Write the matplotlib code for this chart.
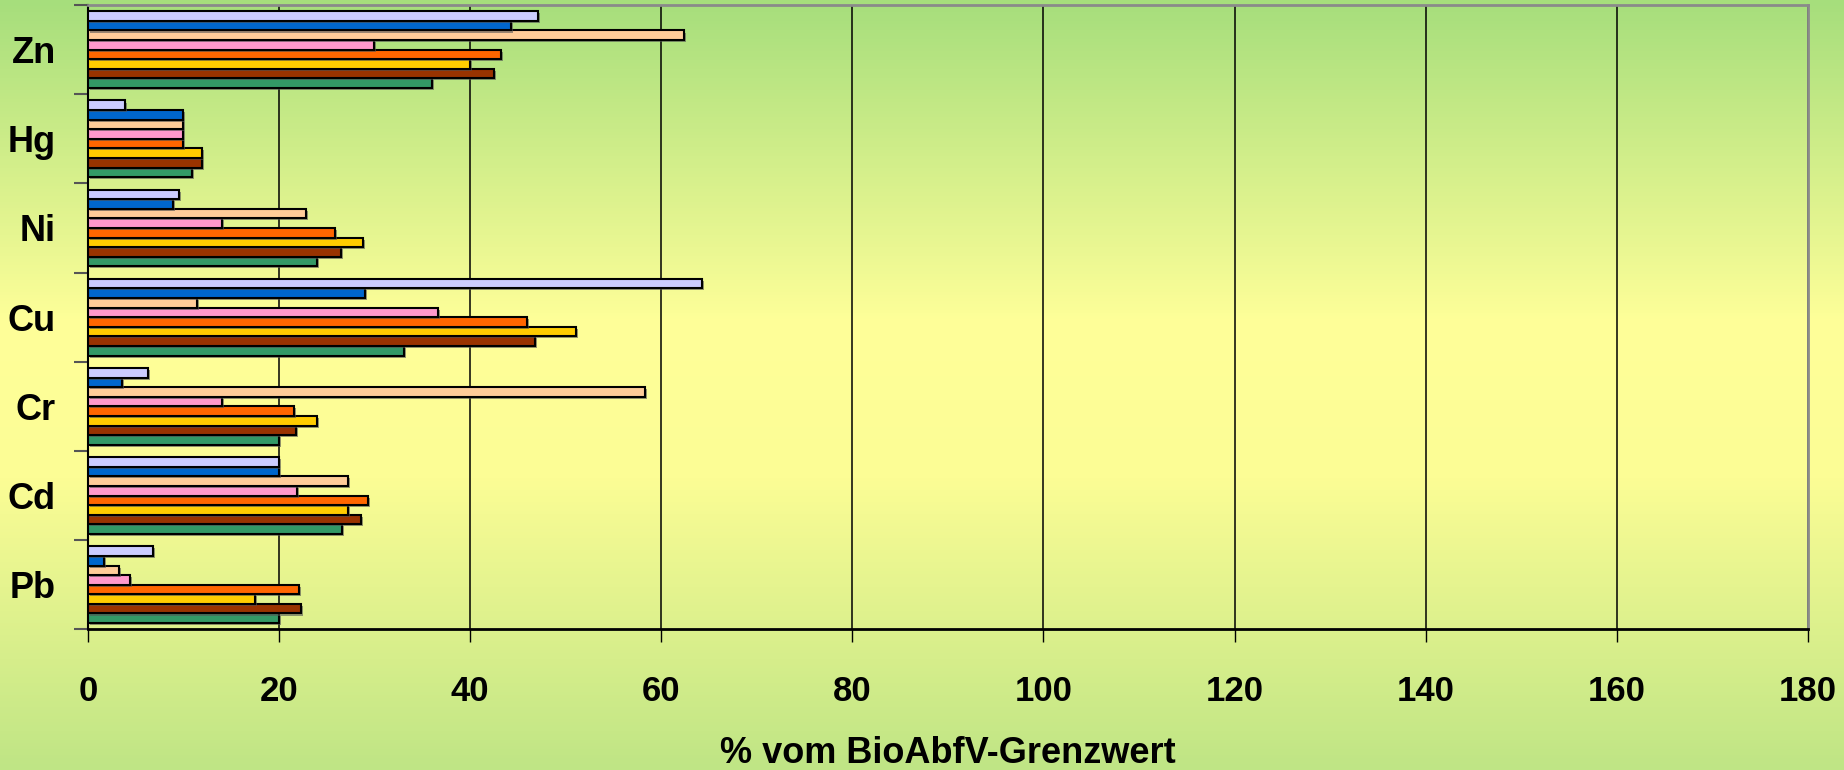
import numpy as np
import matplotlib
matplotlib.use("Agg")
import matplotlib.pyplot as plt
from matplotlib import patheffects as pe
from matplotlib.colors import LinearSegmentedColormap

# Heavy metals, bottom to top
metals = ["Pb", "Cd", "Cr", "Cu", "Ni", "Hg", "Zn"]

# Eight compost series, listed from the bottom bar of each group to the top bar
s1 = [20.0, 26.6, 20.0, 33.1, 24.0, 10.9, 36.0]   # green
s2 = [22.3, 28.6, 21.8, 46.8, 26.5, 11.9, 42.5]   # brown
s3 = [17.5, 27.2, 24.0, 51.1, 28.8, 11.9, 40.0]   # yellow
s4 = [22.1, 29.3, 21.6, 46.0, 25.9, 10.0, 43.2]   # orange
s5 = [4.4, 21.9, 14.0, 36.6, 14.0, 10.0, 29.9]    # pink
s6 = [3.3, 27.2, 58.3, 11.4, 22.8, 10.0, 62.4]    # peach
s7 = [1.7, 20.0, 3.6, 29.0, 8.9, 10.0, 44.3]      # blue
s8 = [6.8, 20.0, 6.3, 64.3, 9.5, 3.9, 47.1]       # lavender

series = [s1, s2, s3, s4, s5, s6, s7, s8]
colors = ["#339966", "#993300", "#FFCC00", "#FF6600",
          "#FF99CC", "#FFCC99", "#0066CC", "#CCCCFF"]

xticks = [0, 20, 40, 60, 80, 100, 120, 140, 160, 180]
xlabel = "% vom BioAbfV-Grenzwert"

plt.rcParams["font.family"] = ["Liberation Sans", "DejaVu Sans"]

fig = plt.figure(figsize=(18.44, 7.70), dpi=100)

# vertical green-yellow-green background
bg = fig.add_axes([0, 0, 1, 1], zorder=-10)
cmap = LinearSegmentedColormap.from_list(
    "bg", [(0.0, "#a6de7c"), (0.42, "#ffff99"), (0.62, "#fcfd95"), (1.0, "#bfe585")])
grad = np.linspace(0, 1, 256).reshape(-1, 1)
bg.imshow(grad, aspect="auto", cmap=cmap, extent=[0, 1, 1, 0])
bg.set_xlim(0, 1)
bg.set_ylim(1, 0)
bg.axis("off")

ax = fig.add_axes([0.0476, 0.1827, 0.9329, 0.8108])
ax.patch.set_alpha(0)

n = len(series)
group = 0.86
h = group / n
y = np.arange(len(metals))
shadow = [pe.SimplePatchShadow(offset=(1.5, -1.5), shadow_rgbFace="#555555", alpha=0.6),
          pe.Normal()]
for i, (vals, c) in enumerate(zip(series, colors)):
    offs = -group / 2 + h * (i + 0.5)
    bars = ax.barh(y + offs, vals, height=h, color=c, edgecolor="black",
                   linewidth=1.5, zorder=3)
    for b in bars:
        b.set_path_effects(shadow)

ax.set_xlim(0, 180)
ax.set_ylim(-0.5, len(metals) - 0.5)

ax.set_xticks(xticks)
ax.set_xticklabels([str(t) for t in xticks], fontsize=25, fontweight="bold")
ax.tick_params(axis="x", length=9, width=1, pad=24, colors="black")

ax.set_yticks(np.arange(-0.5, len(metals), 1.0))
ax.set_yticklabels([])
ax.set_yticks(y, minor=True)
ax.set_yticklabels(metals, minor=True, fontsize=26, fontweight="bold")
ax.tick_params(axis="y", which="major", length=10, width=1.5, color="#555555")
ax.tick_params(axis="y", which="minor", length=0, pad=23)

ax.grid(axis="x", color="black", linewidth=1.1, zorder=1)
ax.set_axisbelow(True)

for side in ("top", "right"):
    ax.spines[side].set_color("#8a8a8a")
    ax.spines[side].set_linewidth(2)
ax.spines["left"].set_color("black")
ax.spines["left"].set_linewidth(1.5)
ax.spines["bottom"].set_color("black")
ax.spines["bottom"].set_linewidth(2)

fig.text(0.514, 0.022, xlabel, ha="center", va="center", fontsize=26, fontweight="bold")

fig.savefig("out.png", dpi=100)
